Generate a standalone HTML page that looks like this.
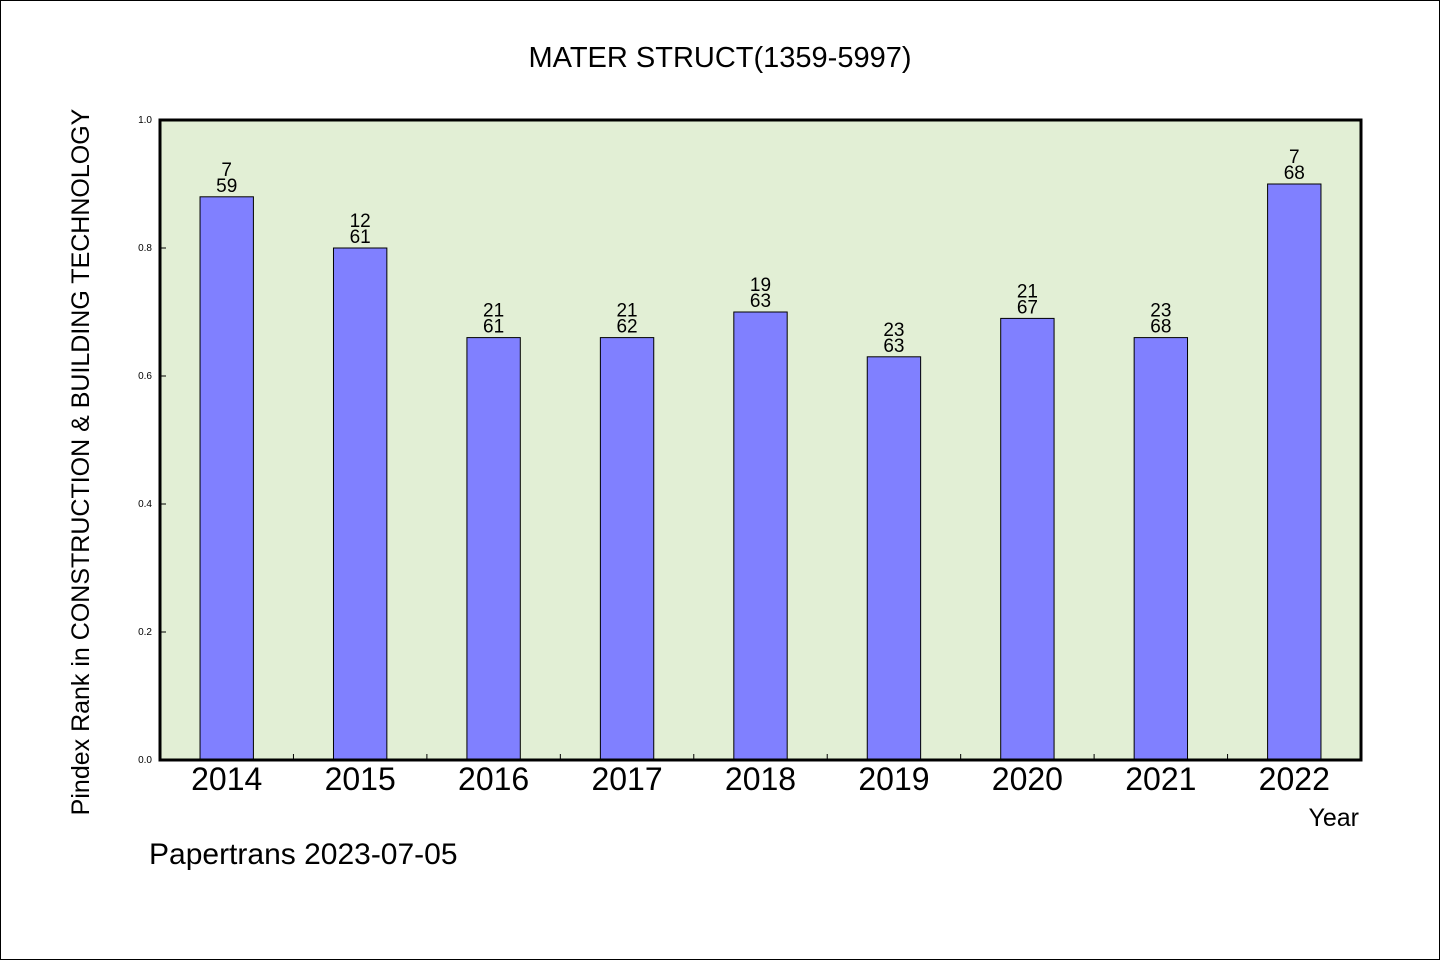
<!DOCTYPE html>
<html><head><meta charset="utf-8"><style>
body{margin:0;background:#fff}
svg{display:block;font-family:"WenQuanYi Zen Hei","Liberation Sans",sans-serif}
</style></head><body>
<svg width="1440" height="960" viewBox="0 0 1440 960" xmlns="http://www.w3.org/2000/svg">
<rect x="0.5" y="0.5" width="1439" height="959" fill="#fff" stroke="#000"/>
<text x="720" y="67" text-anchor="middle" font-size="29">MATER STRUCT(1359-5997)</text>
<rect x="160" y="120" width="1201" height="640" fill="#e2efd5"/>
<g id="bars"></g>
<g id="ticks"></g>
<rect x="160" y="120" width="1201" height="640" fill="none" stroke="#000" stroke-width="3"/>
<text transform="translate(89,462) rotate(-90)" text-anchor="middle" font-size="25">Pindex Rank in CONSTRUCTION &amp; BUILDING TECHNOLOGY</text>
<text x="1359" y="826" text-anchor="end" font-size="25">Year</text>
<text x="149" y="864" font-size="30">Papertrans 2023-07-05</text>
</svg>
<script>
const categories=["2014","2015","2016","2017","2018","2019","2020","2021","2022"];
const values=[0.88,0.80,0.66,0.66,0.70,0.63,0.69,0.66,0.90];
const ranks=["7","12","21","21","19","23","21","23","7"];
const totals=["59","61","61","62","63","63","67","68","68"];
const yTicks=[0,0.2,0.4,0.6,0.8,1.0];
const NS="http://www.w3.org/2000/svg";
const L=160,R=1361,T=120,B=760;
const band=(R-L)/categories.length;
const xc=i=>L+band*(i+0.5);
const y=v=>B-(B-T)*v;
const bars=document.getElementById('bars'),ticks=document.getElementById('ticks');
function mk(tag,a,p){const e=document.createElementNS(NS,tag);for(const k in a)e.setAttribute(k,a[k]);p.appendChild(e);return e;}
categories.forEach((c,i)=>{
  const bw=band*0.4;
  const r=mk('rect',{x:xc(i)-bw/2,y:y(values[i]),width:bw,height:B-y(values[i]),fill:'#8080ff',stroke:'#000','stroke-width':1},bars);
  
  
  const t1=mk('text',{x:xc(i),y:y(values[i])-21,'text-anchor':'middle','font-size':19},bars);t1.textContent=ranks[i];
  
  
  const t2=mk('text',{x:xc(i),y:y(values[i])-5,'text-anchor':'middle','font-size':19},bars);t2.textContent=totals[i];
  
  
  const xl=mk('text',{x:xc(i),y:790,'text-anchor':'middle','font-size':32},ticks);xl.textContent=c;
  
  
  if(i>0){const tk=mk('line',{x1:L+band*i,x2:L+band*i,y1:B,y2:B-6,stroke:'#000'},ticks);
  
  }
});
yTicks.forEach(v=>{
  const tl=mk('text',{x:152,y:y(v)+3,'text-anchor':'end','font-size':10},ticks);tl.textContent=v.toFixed(1);
  
  
  const tk=mk('line',{x1:L,x2:L+6,y1:y(v),y2:y(v),stroke:'#000'},ticks);
  
  
});
</script>
</body></html>
